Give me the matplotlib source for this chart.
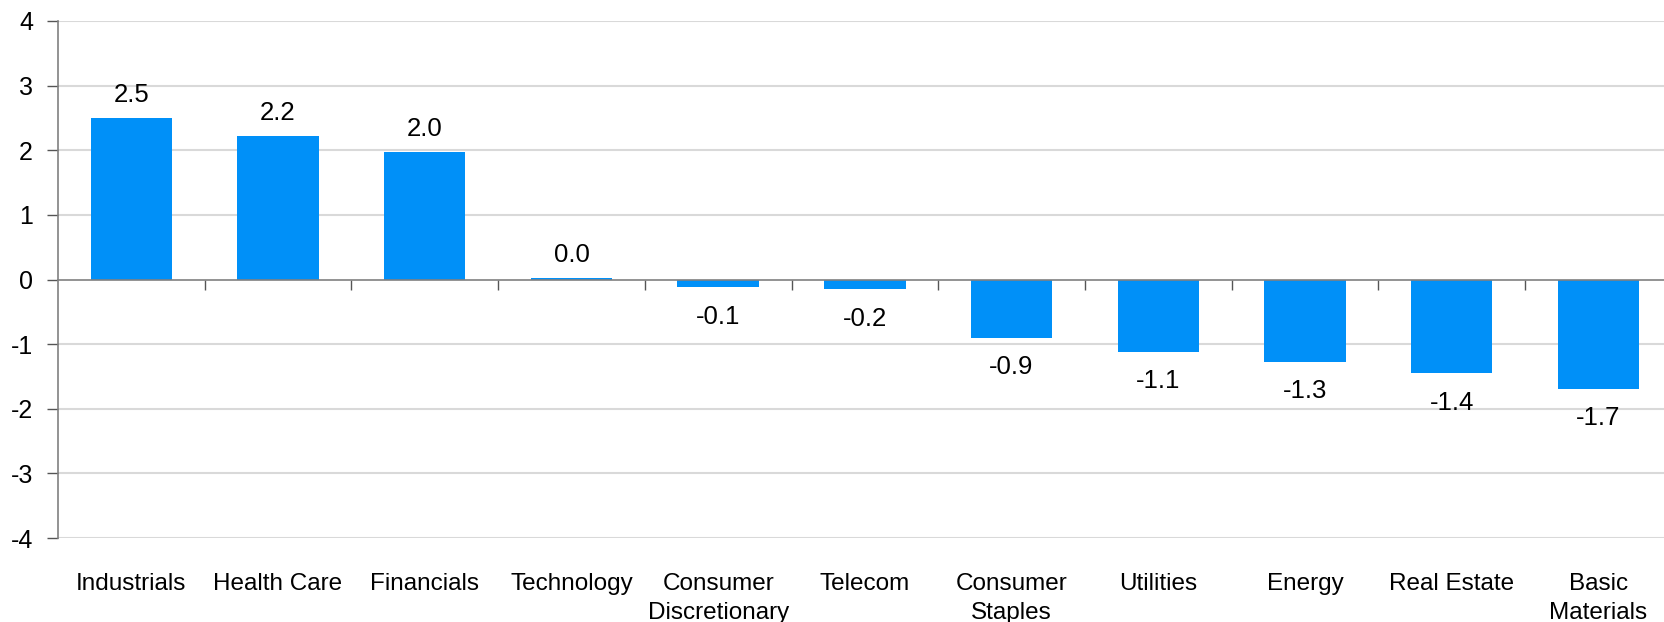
import matplotlib
matplotlib.use("Agg")
import matplotlib.pyplot as plt
from matplotlib.transforms import blended_transform_factory
import numpy as np

categories = ["Industrials", "Health Care", "Financials", "Technology",
              "Consumer\nDiscretionary", "Telecom", "Consumer\nStaples",
              "Utilities", "Energy", "Real Estate", "Basic\nMaterials"]
values = [2.5, 2.22, 1.97, 0.02, -0.12, -0.15, -0.9, -1.12, -1.27, -1.45, -1.69]
labels = ["2.5", "2.2", "2.0", "0.0", "-0.1", "-0.2", "-0.9", "-1.1", "-1.3", "-1.4", "-1.7"]
yticks = [-4, -3, -2, -1, 0, 1, 2, 3, 4]

plt.rcParams['font.family'] = ['Liberation Sans', 'DejaVu Sans']

W, H = 1664, 622
fig = plt.figure(figsize=(W / 100, H / 100), dpi=100)
left, right = 58, 58 + 11 * 146.7
top, bottom = 21, 538
ax = fig.add_axes([left / W, 1 - bottom / H, (right - left) / W, (bottom - top) / H])

x = np.arange(len(categories))
ax.bar(x, values, width=0.555, color="#0090F8", zorder=3)

ax.set_xlim(-0.5, len(categories) - 0.5)
ax.set_ylim(-4, 4)
ax.set_yticks(yticks)
ax.set_yticklabels([str(t) for t in yticks], fontsize=18)
ax.tick_params(axis='y', direction='out', length=8, width=1, color='#555555', pad=10)

for t in yticks:
    if t != 0:
        ax.axhline(t, color='#D9D9D9', lw=1.5, zorder=1)

for s in ['top', 'right']:
    ax.spines[s].set_visible(False)
ax.spines['left'].set_color('#808080')
ax.spines['left'].set_linewidth(1.2)
ax.spines['bottom'].set_position(('data', 0))
ax.spines['bottom'].set_color('#808080')
ax.spines['bottom'].set_linewidth(1.2)
ax.spines['bottom'].set_zorder(4)

ax.set_xticks(np.arange(0.5, len(categories) - 0.5, 1.0))
ax.set_xticklabels([])
ax.tick_params(axis='x', direction='out', length=7, width=1, color='#555555')

for xi, v, lab in zip(x, values, labels):
    if v >= 0:
        ax.annotate(lab, (xi, v), xytext=(0, 8), textcoords='offset points',
                    ha='center', va='bottom', fontsize=18.5)
    else:
        ax.annotate(lab, (xi, v), xytext=(0, -12.5), textcoords='offset points',
                    ha='center', va='top', fontsize=18.5)

trans = blended_transform_factory(ax.transData, ax.transAxes)
for xi, c in zip(x, categories):
    ax.annotate(c, (xi, 0), xycoords=trans, xytext=(0, -25), textcoords='offset points',
                ha='center', va='top', fontsize=17.5, linespacing=1.4)

fig.savefig("out.png", dpi=100)
